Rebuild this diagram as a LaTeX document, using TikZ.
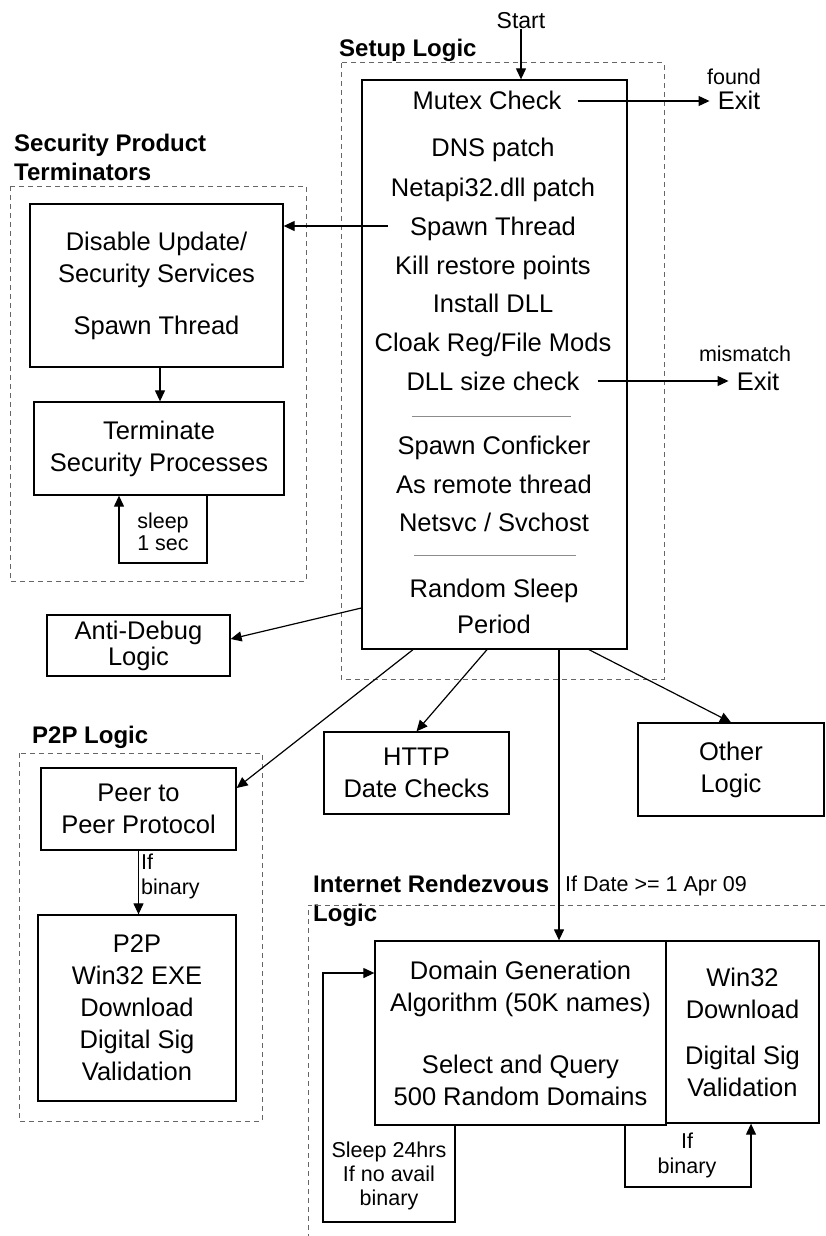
\documentclass[tikz,border=0pt]{standalone}
\usepackage{fontspec}
\setmainfont{Liberation Sans}
\usetikzlibrary{arrows.meta}

\begin{document}
\begin{tikzpicture}[x=1pt, y=-1pt,
    >={Triangle[length=11pt,width=10pt]},
    box/.style={draw, line width=1.3pt, align=center, inner sep=0pt, font=\fontsize{25.5}{32}\selectfont},
    dashbox/.style={draw=black!60, line width=1pt, dash pattern=on 5pt off 4pt},
    txt/.style={inner sep=0pt, font=\fontsize{25.5}{32}\selectfont, text height=18pt, text depth=0pt},
    small/.style={inner sep=0pt, align=center, font=\fontsize{21.5}{25}\selectfont},
    grouptitle/.style={inner sep=0pt, align=left, anchor=west, font=\fontsize{24}{29}\selectfont\bfseries},
    arrow/.style={->, line width=1.2pt},
    sep/.style={draw=black!45, line width=1pt}]

        \useasboundingbox (0,0) rectangle (825,1236);

        % setup logic
        \node[grouptitle] (setuptitle) at (339,50) {Setup Logic};
        \draw[dashbox] (341,63) rectangle (664,679);
        \node[box, minimum width=265, minimum height=569] (setup) at (494.5,364.5) {};

        \node[txt, font=\fontsize{23}{28}\selectfont] (start) at (521,20) {Start};
        \draw[arrow] (start.south) -- (start.south |- setup.north);

        \node[txt] (mutex) at (487,101) {Mutex Check};
        \node[txt] (dns) at (493,148) {DNS patch};
        \node[txt] (netapi) at (493,187) {Netapi32.dll patch};
        \node[txt] (spawn) at (493,226) {Spawn Thread};
        \node[txt] (restore) at (493,265) {Kill restore points};
        \node[txt] (install) at (493,303) {Install DLL};
        \node[txt] (cloak) at (493,342) {Cloak Reg/File Mods};
        \node[txt] (dllsize) at (493,381) {DLL size check};
        \draw[sep] (412,416) -- (571,416);
        \node[txt] (conficker) at (494,445) {Spawn Conficker};
        \node[txt] (remote) at (494,484) {As remote thread};
        \node[txt] (netsvc) at (494,522) {Netsvc / Svchost};
        \draw[sep] (414,555) -- (576,555);
        \node[txt] (random) at (494,588) {Random Sleep};
        \node[txt] (period) at (494,624) {Period};

        \node[txt] (exitfound) at (739,101) {Exit};
        \node[small] (found) at (734,77) {found};
        \draw[arrow] ([xshift=16pt]mutex.east) -- ([xshift=-8pt]exitfound.west);

        \node[txt] (exitsize) at (758,381) {Exit};
        \node[small] (mismatch) at (745,354) {mismatch};
        \draw[arrow] ([xshift=18pt]dllsize.east) -- ([xshift=-8pt]exitsize.west);

        % security product terminators
        \node[grouptitle] (sectitle) at (14,157) {Security Product\\Terminators};
        \draw[dashbox] (10,186) rectangle (306,581);
        \node[box, minimum width=253, minimum height=163] (disable) at (156.5,285.5) {Disable Update/\\Security Services\\[20pt]Spawn Thread};
        \node[box, minimum width=250, minimum height=93] (terminate) at (159,448.5) {Terminate\\Security Processes};
        \draw[arrow] (disable.south -| 160,0) -- (terminate.north -| 160,0);

        \coordinate (sleepR) at (207,563);
        \coordinate (sleepL) at (119,563);
        \draw[arrow] (terminate.south -| sleepR) -- (sleepR) -- (sleepL) -- (terminate.south -| sleepL);
        \node[small, font=\fontsize{21.5}{22}\selectfont] (sleeptxt) at (163,532) {sleep\\1 sec};

        \draw[arrow] ([xshift=-22pt]spawn.west) -- (spawn.west -| disable.east);

        % anti-debug
        \node[box, minimum width=183, minimum height=61, font=\fontsize{25.5}{26}\selectfont] (antidebug) at (138.5,645.5) {Anti-Debug\\Logic};
        \draw[arrow] (setup.west |- 0,608) -- (antidebug.east |- 0,639);

        % p2p logic
        \node[grouptitle] (p2ptitle) at (32,737) {P2P Logic};
        \draw[dashbox] (19,753) rectangle (262,1121);
        \node[box, minimum width=195, minimum height=82] (peer) at (138.5,809) {Peer to\\Peer Protocol};
        \node[box, minimum width=198, minimum height=186] (p2p) at (137,1008) {P2P\\Win32 EXE\\Download\\Digital Sig\\Validation};
        \draw[arrow] (peer.south) -- (p2p.north -| peer.south);
        \node[small, align=left, anchor=west] (ifbinp2p) at (141,876) {If\\binary};
        \draw[arrow] (setup.south -| 413,0) -- (peer.east |- 0,788);

        % http and other
        \node[box, minimum width=185, minimum height=82] (http) at (416.5,773) {HTTP\\Date Checks};
        \draw[arrow] (setup.south -| 487,0) -- (http.north);
        \node[box, minimum width=186, minimum height=93] (other) at (731,769.5) {Other\\Logic};
        \draw[arrow] (setup.south -| 589,0) -- (other.north);

        % internet rendezvous logic
        \node[grouptitle] (nettitle) at (313,901) {Internet Rendezvous\\Logic};
        \draw[dashbox] (825,905) -| (308,1236);
        \node[small, anchor=west] (datecheck) at (565,886) {If Date >= 1 Apr 09};
        \node[box, minimum width=291, minimum height=184] (domain) at (520.5,1033) {Domain Generation\\Algorithm (50K names)\\[30pt]Select and Query\\500 Random Domains};
        \node[box, minimum width=153, minimum height=182] (win32) at (742.5,1032) {Win32\\Download\\[14pt]Digital Sig\\Validation};
        \draw[arrow] (setup.south -| 559,0) -- (domain.north -| 559,0);

        \coordinate (waitR) at (455,1222);
        \coordinate (waitL) at (323,973);
        \draw[arrow] (domain.south -| waitR) -- (waitR) -| (waitL) -- (domain.west |- waitL);
        \node[small, font=\fontsize{21.5}{24}\selectfont] (sleepday) at (389,1176) {Sleep 24hrs\\If no avail\\binary};

        \coordinate (binL) at (625,1187);
        \coordinate (binR) at (751,1187);
        \draw[arrow] (domain.south -| binL) -- (binL) -- (binR) -- (win32.south -| binR);
        \node[small] (ifbinnet) at (687,1155) {If\\binary};

    \end{tikzpicture}
\end{document}
